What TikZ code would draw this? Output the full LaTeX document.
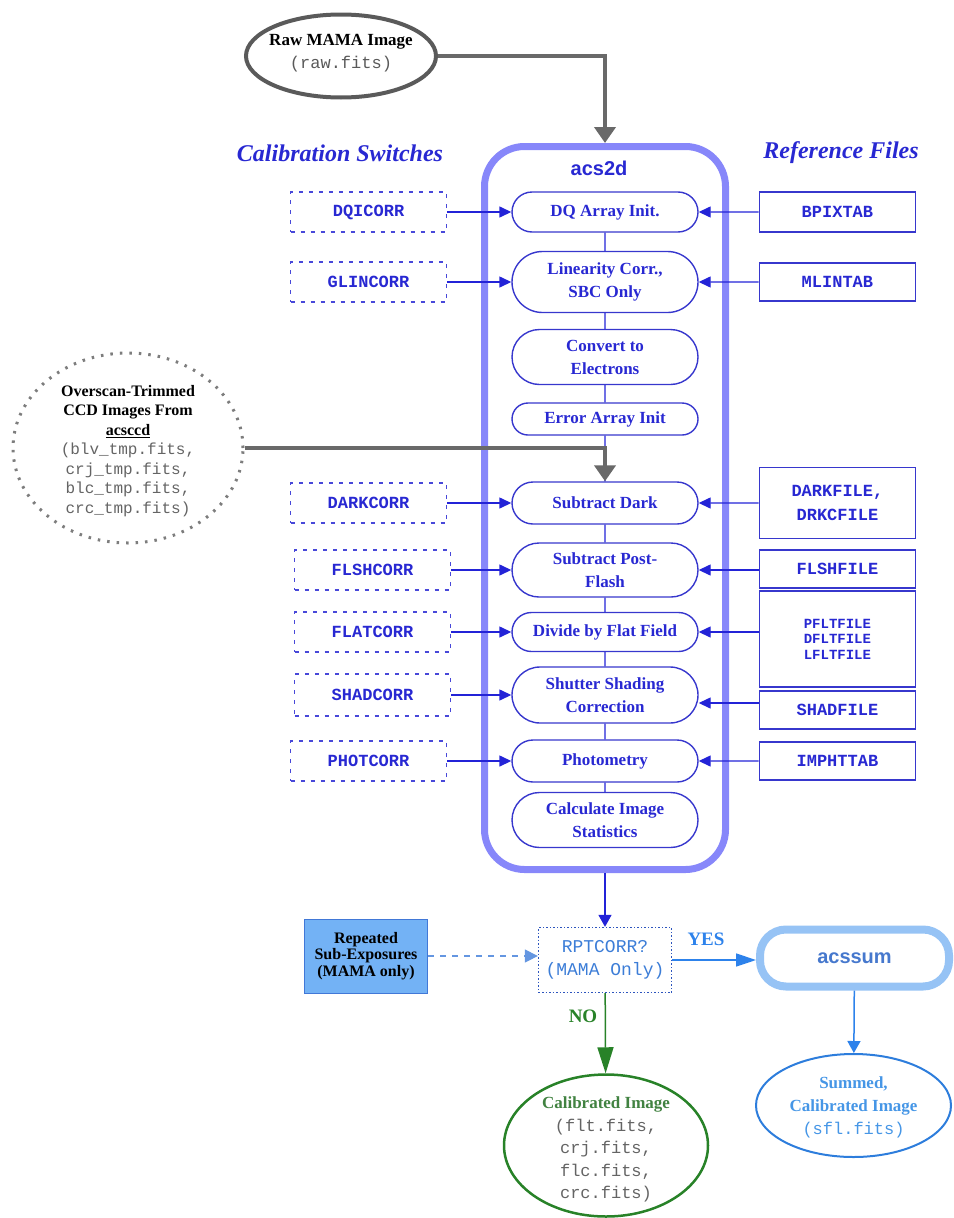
\documentclass[tikz,border=0pt]{standalone}
\usepackage{fontspec}
\setmainfont{Liberation Serif}
\setsansfont{Liberation Sans}
\setmonofont{Liberation Mono}
\usetikzlibrary{positioning,arrows.meta,shapes.geometric,shapes.misc}

\definecolor{swblue}{RGB}{40,40,210}
\definecolor{boxblue}{RGB}{55,55,205}
\definecolor{contblue}{RGB}{135,135,250}
\definecolor{arrblue}{RGB}{35,35,215}
\definecolor{grayarr}{RGB}{105,105,105}
\definecolor{rawgray}{RGB}{90,90,90}
\definecolor{dotgray}{RGB}{125,125,125}
\definecolor{monogray}{RGB}{100,100,100}
\definecolor{rptborder}{RGB}{45,85,190}
\definecolor{rpttext}{RGB}{60,125,215}
\definecolor{repfill}{RGB}{115,178,245}
\definecolor{repborder}{RGB}{65,120,215}
\definecolor{dashblue}{RGB}{100,150,225}
\definecolor{yesblue}{RGB}{45,130,235}
\definecolor{sumborder}{RGB}{150,195,245}
\definecolor{sumtext}{RGB}{70,120,205}
\definecolor{ellblue}{RGB}{45,125,220}
\definecolor{elltext}{RGB}{70,150,230}
\definecolor{darkgreen}{RGB}{40,130,40}
\definecolor{textgreen}{RGB}{65,130,65}

\begin{document}
\begin{tikzpicture}[x=1pt, y=-1pt,
    acsbox/.style={rectangle, draw=contblue, line width=7pt, rounded corners=40pt, minimum width=241pt, minimum height=723pt},
    stepbox/.style={rounded rectangle, draw=boxblue, line width=1.4pt, minimum width=188pt, inner xsep=1pt, inner ysep=2pt, text=swblue, align=center, font=\fontsize{17}{23}\selectfont\bfseries},
    switchbox/.style={rectangle, draw=swblue!85, dash pattern=on 4pt off 6pt, line width=1.5pt, minimum width=156pt, minimum height=40pt, text=swblue, font=\fontsize{17}{20}\selectfont\ttfamily\bfseries},
    refbox/.style={rectangle, draw=boxblue, line width=1.4pt, minimum width=156pt, minimum height=38pt, text=swblue, align=center, font=\fontsize{17}{24}\selectfont\ttfamily\bfseries},
    heading/.style={text=swblue, font=\fontsize{24}{28}\selectfont\bfseries\itshape},
    flow/.style={draw=arrblue, line width=1.4pt},
    feed/.style={flow, -{Triangle[length=12pt,width=11pt]}},
    bigarrow/.style={draw=grayarr, line width=4.5pt, line join=miter, -{Triangle[length=16pt,width=21pt]}},
    ellipsetext/.style={align=center, font=\fontsize{17}{23}\selectfont\bfseries},
]
\useasboundingbox (0,0) rectangle (953,1218);

% Nodes
\node (acsd) [acsbox] at (605,508) {};
\node (acsdtitle) [text=swblue, font=\fontsize{20}{24}\selectfont\sffamily\bfseries] at (599,168) {acs2d};

\node (dq) [stepbox, minimum height=40pt] at (605,212) {DQ Array Init.};
\node (lin) [stepbox, minimum height=61pt] at (605,282) {Linearity Corr.,\\SBC Only};
\node (conv) [stepbox, minimum height=55pt] at (605,357) {Convert to\\Electrons};
\node (err) [stepbox, minimum height=32pt] at (605,419) {Error Array Init};
\node (dark) [stepbox, minimum height=42pt] at (605,503) {Subtract Dark};
\node (flash) [stepbox, minimum height=54pt] at (605,570) {Subtract Post-\\Flash};
\node (flat) [stepbox, minimum height=39pt] at (605,632) {Divide by Flat Field};
\node (shutter) [stepbox, minimum height=56pt] at (605,695) {Shutter Shading\\Correction};
\node (phot) [stepbox, minimum height=42pt] at (605,761) {Photometry};
\node (stats) [stepbox, minimum height=55pt] at (605,820) {Calculate Image\\Statistics};

\node (dqsw) [switchbox, left=64pt of dq] {DQICORR};
\node (linsw) [switchbox, left=64pt of lin] {GLINCORR};
\node (darksw) [switchbox, left=64pt of dark] {DARKCORR};
\node (flashsw) [switchbox, left=60pt of flash] {FLSHCORR};
\node (flatsw) [switchbox, left=60pt of flat] {FLATCORR};
\node (shadsw) [switchbox, left=60pt of shutter, minimum height=42pt] {SHADCORR};
\node (photsw) [switchbox, left=64pt of phot] {PHOTCORR};

\node (bpixref) [refbox, right=60pt of dq, minimum height=40pt] {BPIXTAB};
\node (mlinref) [refbox, right=60pt of lin] {MLINTAB};
\node (darkref) [refbox, right=60pt of dark, minimum height=71pt] {DARKFILE,\\DRKCFILE};
\node (flshref) [refbox, right=60pt of flash, yshift=1pt] {FLSHFILE};
\node (flatref) [refbox, right=60pt of flat, yshift=-7pt, minimum height=96pt, font=\fontsize{14}{15.5}\selectfont\ttfamily\bfseries] {PFLTFILE\\DFLTFILE\\LFLTFILE};
\node (shadref) [refbox, right=60pt of shutter, yshift=-15pt] {SHADFILE};
\node (imphtref) [refbox, right=60pt of phot] {IMPHTTAB};

\node (raw) [ellipse, draw=rawgray, line width=4pt, minimum width=190pt, minimum height=83pt] at (341,56) {};
\node (rawtext) [ellipsetext, yshift=3pt] at (raw.center) {Raw MAMA Image\\{\ttfamily\mdseries\color{rawgray}(raw.fits)}};

\node (ovs) [ellipse, draw=dotgray, line width=3pt, dash pattern=on 2.5pt off 7pt, minimum width=230pt, minimum height=190pt] at (128,448) {};
\node (ovstext) [align=center, font=\fontsize{16}{19.5}\selectfont\bfseries, yshift=-3pt] at (ovs.center) {Overscan-Trimmed\\CCD Images From\\\underline{acsccd}\\{\ttfamily\mdseries\color{monogray}(blv\_tmp.fits,}\\{\ttfamily\mdseries\color{monogray}crj\_tmp.fits,}\\{\ttfamily\mdseries\color{monogray}blc\_tmp.fits,}\\{\ttfamily\mdseries\color{monogray}crc\_tmp.fits)}};

\node (rep) [rectangle, draw=repborder, fill=repfill, line width=1pt, minimum width=123pt, minimum height=74pt, inner xsep=0pt, align=center, font=\fontsize{16}{16.5}\selectfont\bfseries] at (366,956) {Repeated\\Sub-Exposures\\(MAMA only)};
\node (rpt) [rectangle, draw=rptborder, dash pattern=on 1.5pt off 2pt, line width=1.3pt, minimum width=133pt, minimum height=65pt, align=center, text=rpttext, font=\fontsize{18}{23}\selectfont\ttfamily] at (605,960) {RPTCORR?\\(MAMA Only)};
\node (acssum) [rectangle, rounded corners=26pt, draw=sumborder, line width=8pt, minimum width=189pt, minimum height=57pt, text=sumtext, font=\fontsize{20}{24}\selectfont\sffamily\bfseries] at (854.5,958) {acssum};

\node (summed) [ellipse, draw=ellblue, line width=2pt, minimum width=195pt, minimum height=103pt] at (853.5,1105.5) {};
\node (summedtext) [ellipsetext, text=elltext, yshift=-2pt] at (summed.center) {Summed,\\Calibrated Image\\{\ttfamily\mdseries (sfl.fits)}};
\node (calib) [ellipse, draw=darkgreen, line width=2.5pt, minimum width=204pt, minimum height=142pt] at (606,1145.5) {};
\node (calibtext) [align=center, font=\fontsize{17}{22.5}\selectfont, yshift=-4pt] at (calib.center) {{\bfseries\color{textgreen}Calibrated Image}\\{\ttfamily\color{monogray}(flt.fits,}\\{\ttfamily\color{monogray}crj.fits,}\\{\ttfamily\color{monogray}flc.fits,}\\{\ttfamily\color{monogray}crc.fits)}};

% Arrows
\foreach \a/\b in {dq/lin, lin/conv, conv/err, err/dark, dark/flash, flash/flat, flat/shutter, shutter/phot, phot/stats}
    \draw[flow] (\a) -- (\b);
\foreach \s/\t in {dqsw/dq, linsw/lin, darksw/dark, flashsw/flash, flatsw/flat, shadsw/shutter, photsw/phot}
    \draw[feed] (\s) -- (\t);
\foreach \r/\t in {bpixref/dq, mlinref/lin, darkref/dark, imphtref/phot}
    \draw[feed] (\r) -- (\t);
\draw[feed] (flash.east -| flshref.west) -- (flash.east);
\draw[feed] (flat.east -| flatref.west) -- (flat.east);
\draw[feed] ([yshift=-8pt]shutter.east -| shadref.west) -- ([yshift=-8pt]shutter.east);

\draw[bigarrow] (raw.east) -| (acsd.north);
\draw[bigarrow] (ovs.east) -| (dark.north);

\draw[flow, -{Triangle[length=12pt,width=13pt]}] (acsd) -- (rpt);
\draw[draw=dashblue, line width=1.3pt, dash pattern=on 6pt off 6pt, -{Triangle[length=13pt,width=13pt]}] (rep.east) -- (rep.east -| rpt.west);
\draw[draw=yesblue, line width=1.5pt, -{Triangle[length=20pt,width=13pt]}] (rpt.east) -- (rpt.east -| acssum.west);
\draw[draw=yesblue, line width=1.5pt, -{Triangle[length=12pt,width=13pt]}] (acssum) -- (summed);
\draw[draw=darkgreen, line width=1.5pt, -{Triangle[length=26pt,width=16pt]}] (rpt) -- (calib);

% Labels
\node (switchlabel) [heading] at (340,153) {Calibration Switches};
\node (reflabel) [heading] at (841,153) {Reference Files};
\node (yeslabel) [text=yesblue, font=\fontsize{19}{22}\selectfont\bfseries] at (706,939) {YES};
\node (nolabel) [text=darkgreen, font=\fontsize{19}{22}\selectfont\bfseries] at (583,1016) {NO};
\end{tikzpicture}
\end{document}
